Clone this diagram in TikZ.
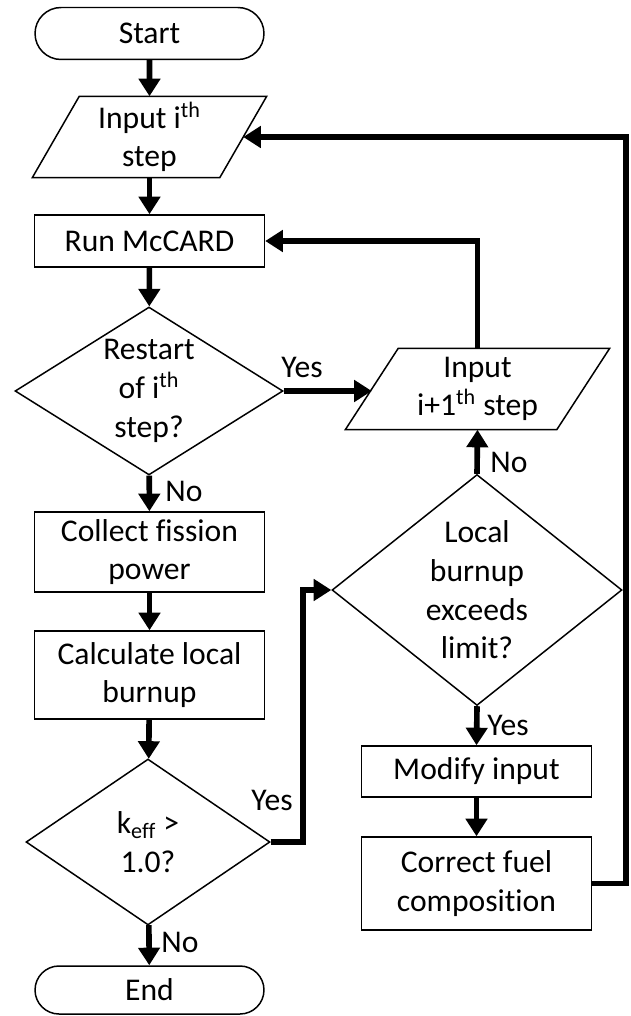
\documentclass[tikz,border=0pt]{standalone}
\usepackage{fontspec}
\setmainfont{Carlito}[Ligatures=NoCommon]
\usetikzlibrary{positioning, arrows.meta, shapes.geometric, shapes.misc}

\tikzset{
  base/.style={draw, line width=0.85pt, inner sep=0pt, align=center, font=\fontsize{18pt}{22pt}\selectfont},
  terminal/.style={base, rounded rectangle, minimum width=4.58cm, minimum height=1.04cm},
  process/.style={base, rectangle, minimum width=4.6cm},
  io/.style={base, draw=none, rectangle, minimum height=1.6cm},
  decision/.style={base, diamond, inner sep=-8pt},
  flow/.style={line width=3.2pt, -{Triangle[length=10pt, width=12pt]}},
  lbl/.style={font=\fontsize{18pt}{22pt}\selectfont, inner sep=0pt}
}
% slanted outline round an io node: #1 node, #2 half slant
\newcommand{\slantbox}[2]{%
  \draw[line width=0.85pt] ([xshift=#2]#1.north west) -- ([xshift=#2]#1.north east)
    -- ([xshift=-#2]#1.south east) -- ([xshift=-#2]#1.south west) -- cycle;}

\begin{document}
\begin{tikzpicture}[x=0.02cm, y=-0.02cm]
    \useasboundingbox (0,0) rectangle (630,1016);
    % Left column
    \node[terminal] (start) at (149.5,33.5) {Start};
    \node[io, minimum width=3.72cm] (in1) at (149.5,137) {Input i\textsuperscript{th}\\step};
    \slantbox{in1}{0.47cm}
    \node[process, minimum height=1.04cm] (run) at (149.5,241) {Run McCARD};
    \node[decision, minimum width=5.36cm, minimum height=3.36cm] (restart) at (149,391) {Restart\\of i\textsuperscript{th}\\step?};
    \node[process, minimum height=1.6cm] (collect) at (149.5,552) {Collect fission\\power};
    \node[process, minimum height=1.76cm] (calc) at (149.5,675) {Calculate local\\burnup};
    \node[decision, minimum width=4.88cm, minimum height=3.32cm] (keff) at (148,842) {k\textsubscript{eff} >\\1.0?};
    \node[terminal, minimum height=0.96cm] (end) at (149.5,990) {End};

    % Right column
    \node[io, minimum width=4.2cm] (in2) at (477.5,389) {Input\\i+1\textsuperscript{th} step};
    \slantbox{in2}{0.53cm}
    \node[decision, minimum width=5.8cm, minimum height=4.62cm] (limit) at (477,590) {Local\\burnup\\exceeds\\limit?};
    \node[process, minimum height=1.02cm] (modify) at (476.5,771.5) {Modify input};
    \node[process, minimum height=1.86cm] (correct) at (476.5,883.5) {Correct fuel\\composition};

    % Bends
    \coordinate (jog) at (303,0);
    \coordinate (edge) at (626,0);

    % Connectors
    \draw[flow] (start) -- (in1);
    \draw[flow] (in1) -- (run);
    \draw[flow] (run) -- (restart);
    \draw[flow] (restart) -- (collect);
    \draw[flow] (collect) -- (calc);
    \draw[flow] (calc) -- (keff);
    \draw[flow] (keff) -- (end);
    \draw[flow] (restart.east) -- (in2.west |- restart.east);
    \draw[flow] (in2.north) |- (run.east);
    \draw[flow] (limit.north) -- (in2.south);
    \draw[flow] (limit.south) -- (modify.north);
    \draw[flow] (modify) -- (correct);
    \draw[flow] (keff.east) -- (keff.east -| jog) |- (limit.west);
    \draw[flow] (correct.east) -- (correct.east -| edge) |- (in1.east);

    % Labels
    \node[lbl] (noA) at (184,491) {No};
    \node[lbl] (noB) at (180,942) {No};
    \node[lbl] (noC) at (509,462) {No};
    \node[lbl] (yesA) at (302,367) {Yes};
    \node[lbl] (yesB) at (272,800) {Yes};
    \node[lbl] (yesC) at (508,725) {Yes};
\end{tikzpicture}
\end{document}
